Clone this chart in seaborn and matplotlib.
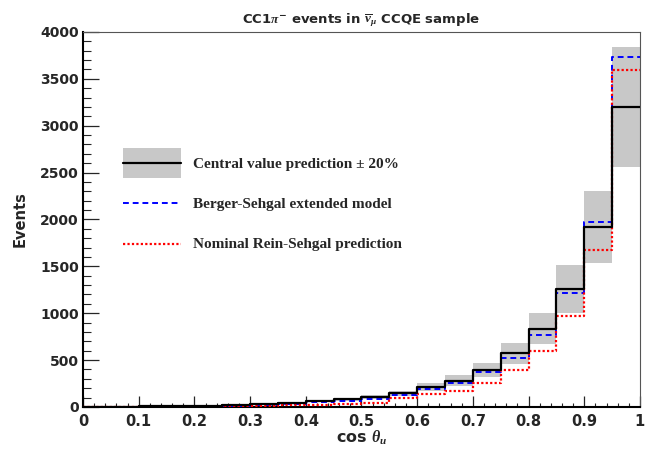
import numpy as np
import pandas as pd
import matplotlib
matplotlib.use('Agg')
import matplotlib.pyplot as plt
import seaborn as sns
from matplotlib.patches import Patch
from matplotlib.lines import Line2D
from matplotlib.legend_handler import HandlerTuple, HandlerLine2D
from matplotlib.ticker import MultipleLocator

# bin edges in cos theta, 20 bins
edges = np.linspace(0, 1, 21)
centers = 0.5 * (edges[:-1] + edges[1:])

# values
central = [2, 4, 7, 10, 14, 21, 32, 43, 64, 82, 107, 146, 217, 281, 395, 572, 836, 1259, 1920, 3200]
berger = [1, 3, 4, 6, 9, 14, 25, 32, 50, 68, 82, 125, 192, 256, 370, 523, 772, 1220, 1970, 3730]
rein = [1, 1, 2, 3, 5, 7, 11, 18, 25, 32, 40, 92, 135, 171, 256, 391, 597, 974, 1678, 3595]

xticks = [0, 0.1, 0.2, 0.3, 0.4, 0.5, 0.6, 0.7, 0.8, 0.9, 1.0]
xticklabels = ['0', '0.1', '0.2', '0.3', '0.4', '0.5', '0.6', '0.7', '0.8', '0.9', '1']
yticks = [0, 500, 1000, 1500, 2000, 2500, 3000, 3500, 4000]
yticklabels = ['0', '500', '1000', '1500', '2000', '2500', '3000', '3500', '4000']

df = pd.DataFrame({'cos': centers, 'central': central, 'berger': berger, 'rein': rein})


# legend lines sit in the middle of the tall handle box, like the grey patch
class CenteredLine(HandlerLine2D):
    def create_artists(self, legend, orig_handle, xdescent, ydescent, width, height,
                       fontsize, trans):
        arts = super().create_artists(legend, orig_handle, xdescent, ydescent, width,
                                      height, fontsize, trans)
        for a in arts:
            a.set_ydata(np.asarray(a.get_ydata()) - ydescent / 2)
        return arts


sns.set_style('ticks')
plt.rcParams['font.family'] = ['DejaVu Sans']
plt.rcParams['font.weight'] = 'bold'
plt.rcParams['mathtext.fontset'] = 'custom'
plt.rcParams['mathtext.rm'] = 'DejaVu Sans:bold'
plt.rcParams['mathtext.it'] = 'Liberation Serif:italic'
plt.rcParams['mathtext.bf'] = 'DejaVu Sans:bold'

fig = plt.figure(figsize=(6.57, 4.5), dpi=100)
ax = fig.add_axes([0.1263, 0.0956, 0.974 - 0.1263, 0.929 - 0.0956])

c = df['central'].to_numpy(dtype=float)
ax.bar(df['cos'], 0.4 * c, bottom=0.8 * c, width=0.05, color='#c8c8c8', linewidth=0, zorder=1)

sns.histplot(data=df, x='cos', weights='berger', bins=20, binrange=(0, 1), element='step',
             fill=False, color='blue', linestyle=(0, (3, 2)), linewidth=1.4, ax=ax, zorder=3)
sns.histplot(data=df, x='cos', weights='rein', bins=20, binrange=(0, 1), element='step',
             fill=False, color='red', linestyle=(0, (1, 1)), linewidth=1.6, ax=ax, zorder=3)
sns.histplot(data=df, x='cos', weights='central', bins=20, binrange=(0, 1), element='step',
             fill=False, color='black', linewidth=1.6, ax=ax, zorder=4)

ax.set_xlim(0, 1)
ax.set_ylim(0, 4000)
ax.set_xticks(xticks)
ax.set_xticklabels(xticklabels, fontweight='bold', fontsize=10.5, family='DejaVu Sans')
ax.set_yticks(yticks)
ax.set_yticklabels(yticklabels, fontweight='bold', fontsize=10, family='DejaVu Sans')
ax.xaxis.set_minor_locator(MultipleLocator(0.02))
ax.yaxis.set_minor_locator(MultipleLocator(100))
ax.tick_params(axis='x', which='major', direction='in', length=8, width=0.9, pad=5)
ax.tick_params(axis='x', which='minor', direction='in', length=3.2, width=0.8)
ax.tick_params(axis='y', which='major', direction='in', length=11.5, width=0.9, pad=3)
ax.tick_params(axis='y', which='minor', direction='in', length=5.8, width=0.8)

for s in ['left', 'bottom']:
    ax.spines[s].set_color('black')
    ax.spines[s].set_linewidth(1.5)
for s in ['top', 'right']:
    ax.spines[s].set_color('#555555')
    ax.spines[s].set_linewidth(0.8)

ax.set_xlabel(r'cos $\theta_{u}$', fontsize=11.5, fontweight='bold', labelpad=0)
ax.set_ylabel('Events', fontsize=10.5, fontweight='bold', labelpad=9)
ax.set_title(r'CC1$\pi^{-}$ events in $\overline{\nu}_{\mu}$ CCQE sample',
             fontsize=9.5, fontweight='bold', pad=6)

handles = [
    (Patch(facecolor='#c8c8c8', edgecolor='none'), Line2D([], [], color='black', lw=1.6)),
    Line2D([], [], color='blue', lw=1.4, linestyle=(0, (3, 2))),
    Line2D([], [], color='red', lw=1.6, linestyle=(0, (1, 1))),
]
labels = ['Central value prediction ± 20%', 'Berger-Sehgal extended model',
          'Nominal Rein-Sehgal prediction']
ax.legend(handles, labels, loc='upper left', bbox_to_anchor=(0.072, 0.69),
          frameon=False, borderpad=0, borderaxespad=0, handlelength=3.8,
          handleheight=2.6, labelspacing=0.7, handletextpad=0.8,
          handler_map={tuple: HandlerTuple(ndivide=1, pad=0), Line2D: CenteredLine()},
          prop={'family': 'Liberation Serif', 'weight': 'bold', 'size': 11})

fig.savefig('out.png', dpi=100)
